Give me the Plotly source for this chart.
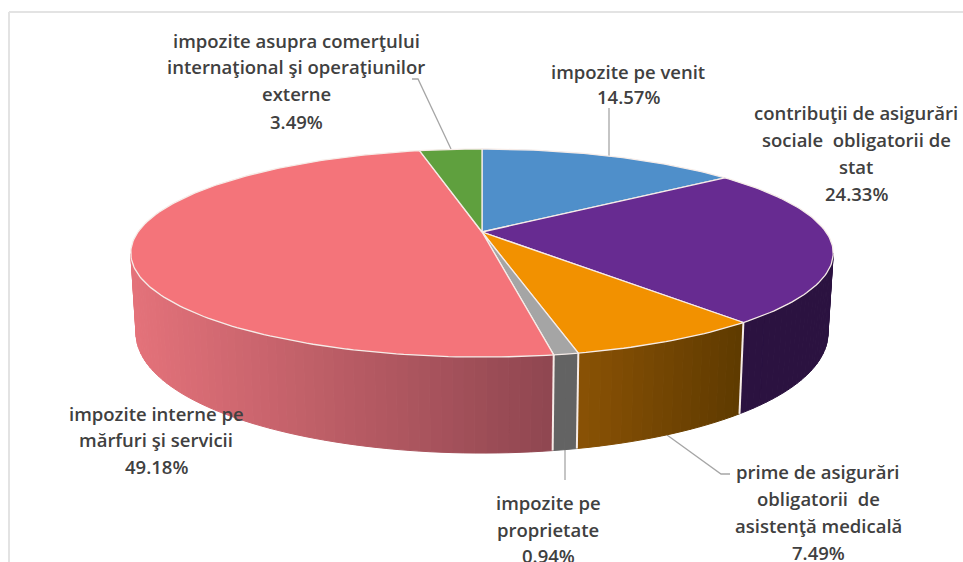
"""Revenue structure shown as a tilted 3D pie, built from filled scatter traces."""

import numpy as np
import plotly.graph_objects as go

# === Data ===
CATEGORIES = [
    "impozite pe venit",
    "contribuţii de asigurări sociale obligatorii de stat",
    "prime de asigurări obligatorii de asistenţă medicală",
    "impozite pe proprietate",
    "impozite interne pe mărfuri şi servicii",
    "impozite asupra comerţului internaţional şi operaţiunilor externe",
]
SHARES = [14.57, 24.33, 7.49, 0.94, 49.18, 3.49]
LABEL_LINES = [
    ["impozite pe venit", "14.57%"],
    ["contribuţii de asigurări", "sociale  obligatorii de", "stat", "24.33%"],
    ["prime de asigurări", "obligatorii  de", "asistenţă medicală", "7.49%"],
    ["impozite pe", "proprietate", "0.94%"],
    ["impozite interne pe", "mărfuri şi servicii", "49.18%"],
    ["impozite asupra comerţului", "internaţional şi operaţiunilor", "externe", "3.49%"],
]

# === Styles ===
TOP_COLORS = ["#4f8fca", "#672b91", "#f29100", "#a5a5a5", "#f4747a", "#5fa03e"]
# wall colour at the clockwise start and end of each visible slice
WALL_COLORS = [
    None,
    ("#2b1240", "#2b1240"),
    ("#5e3a00", "#8a5205"),
    ("#636363", "#636363"),
    ("#8f4650", "#e4727a"),
    None,
]
EDGE_COLOR = "#f6ece8"
TEXT_COLOR = "#404040"
LEADER_COLOR = "#a6a6a6"
FRAME_COLOR = "#e3e3e3"

# label anchors, pixels
LABEL_X = [628, 856, 818, 548, 156, 296]
LABEL_Y = [
    [71, 96],
    [112, 139, 166, 193],
    [471, 498, 525, 552],
    [502, 529, 555],
    [413, 439, 466],
    [40, 66, 93, 121],
]
LEADERS = [
    "M 412 79 L 418 79 L 451 149",
    "M 609 108 L 609 156",
    "M 565 450 L 565 480",
    "M 667 435 L 721 474 L 730 474",
]

# pie geometry (perspective view of a circle)
APEX_X, APEX_Y = 482, 232
RADIUS_X, RADIUS_Y = 344, 99.8
TILT = 0.202
BOTTOM_SCALE = 0.985
VISIBLE_FROM, VISIBLE_TO = 101.7, 258.0


def top_point(theta):
    """Project a clockwise angle (degrees from 12 o'clock) on to the top face."""
    rad = np.radians(theta)
    u, v = np.cos(rad), np.sin(rad)
    scale = 1 + TILT * u
    return APEX_X + RADIUS_X * v / scale, APEX_Y - RADIUS_Y * u / scale


def bottom_point(theta):
    """Project the same angle on to the bottom rim of the wall."""
    x, y = top_point(theta)
    u = np.cos(np.radians(theta))
    return APEX_X + (x - APEX_X) * BOTTOM_SCALE, y + 76 - 20 * u


def mix(c1, c2, t):
    a = [int(c1[i:i + 2], 16) for i in (1, 3, 5)]
    b = [int(c2[i:i + 2], 16) for i in (1, 3, 5)]
    return "rgb({},{},{})".format(*[round(p + (q - p) * t) for p, q in zip(a, b)])


fig = go.Figure()
edges = np.concatenate([[0], np.cumsum(SHARES)]) * 3.6

# side wall, as thin strips so the gradient shows
for i, name in enumerate(CATEGORIES):
    if WALL_COLORS[i] is None:
        continue
    start = max(edges[i], VISIBLE_FROM)
    end = min(edges[i + 1], VISIBLE_TO)
    angles = np.linspace(start, end, max(3, int((end - start) / 1.5) + 1))
    x_start, x_end = top_point(start)[0], top_point(end)[0]
    for a0, a1 in zip(angles[:-1], angles[1:]):
        t0 = top_point(a0)
        t1 = top_point(a1)
        b0 = bottom_point(a0)
        b1 = bottom_point(a1)
        frac = ((t0[0] + t1[0]) / 2 - x_start) / (x_end - x_start)
        color = mix(WALL_COLORS[i][0], WALL_COLORS[i][1], frac)
        fig.add_trace(go.Scatter(
            x=[t0[0], t1[0], b1[0], b0[0], t0[0]],
            y=[t0[1], t1[1], b1[1], b0[1], t0[1]],
            mode="lines",
            fill="toself",
            fillcolor=color,
            line=dict(color=color, width=1),
            hoverinfo="skip",
            showlegend=False,
        ))

# wall separators between slices
for theta in edges[2:5]:
    t = top_point(theta)
    b = bottom_point(theta)
    fig.add_trace(go.Scatter(
        x=[t[0], b[0]],
        y=[t[1], b[1]],
        mode="lines",
        line=dict(color=EDGE_COLOR, width=2),
        hoverinfo="skip",
        showlegend=False,
    ))

# top face
for i, name in enumerate(CATEGORIES):
    angles = np.linspace(edges[i], edges[i + 1], max(3, int(SHARES[i] * 3.6)))
    px, py = top_point(angles)
    fig.add_trace(go.Scatter(
        x=np.concatenate([[APEX_X], px, [APEX_X]]),
        y=np.concatenate([[APEX_Y], py, [APEX_Y]]),
        mode="lines",
        fill="toself",
        fillcolor=TOP_COLORS[i],
        line=dict(color=EDGE_COLOR, width=1.3),
        name=name,
        text=f"{name}<br>{SHARES[i]:.2f}%",
        hoverinfo="text",
        showlegend=False,
    ))

for i, lines in enumerate(LABEL_LINES):
    for line, y in zip(lines, LABEL_Y[i]):
        fig.add_annotation(
            x=LABEL_X[i],
            y=y,
            text=line,
            showarrow=False,
            xanchor="center",
            yanchor="middle",
            font=dict(family="Open Sans", size=18.5, color=TEXT_COLOR, weight=600),
        )

shapes = [
    dict(type="path", path=p, line=dict(color=LEADER_COLOR, width=1.3), layer="below")
    for p in LEADERS
]
shapes.append(dict(type="line", x0=9, x1=963, y0=12, y1=12, line=dict(color=FRAME_COLOR, width=2)))
shapes.append(dict(type="line", x0=9, x1=9, y0=12, y1=562, line=dict(color=FRAME_COLOR, width=2)))

fig.update_layout(
    width=963,
    height=562,
    margin=dict(t=0, b=0, l=0, r=0),
    xaxis=dict(range=[0, 963], visible=False, fixedrange=True),
    yaxis=dict(range=[562, 0], visible=False, fixedrange=True),
    plot_bgcolor="#ffffff",
    paper_bgcolor="#ffffff",
    shapes=shapes,
    showlegend=False,
)

fig.write_html(
    "out.html",
    config=dict(displayModeBar=False),
    post_script="document.body.style.margin='0';document.body.style.overflow='hidden';",
)
